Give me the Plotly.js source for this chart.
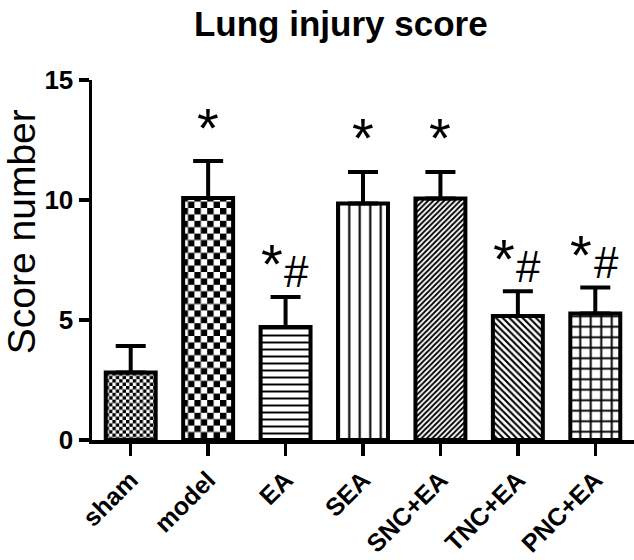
<!DOCTYPE html>
<html><head><meta charset="utf-8">
<script src="https://cdn.plot.ly/plotly-3.0.1.min.js"></script>
<style>html,body{margin:0;padding:0;background:#fff}</style>
</head><body><div id="chart" style="width:634px;height:560px"></div>
<script>
const groups = ['sham', 'model', 'EA', 'SEA', 'SNC+EA', 'TNC+EA', 'PNC+EA'];
const meanScore = [2.81, 10.08, 4.71, 9.85, 10.06, 5.17, 5.27];
const semScore = [1.11, 1.54, 1.25, 1.32, 1.11, 1.03, 1.08];
const starLabels = ['', '*', '*', '*', '*', '*', '*'];
const hashLabels = ['', '', '#', '', '', '#', '#'];
const patternShapes = ['.', '.', '-', '|', '/', '\\', '+'];
const patternSizes = [7, 13, 7, 10.5, 3.8, 4.7, 10.5];
const patternSolid = [0.5, 0.5, 0.28, 0.2, 0.5, 0.45, 0.34];
const yTitle = 'Score number';

const FONT = 'Arial, "Liberation Sans", sans-serif';

const trace = {
  type: 'bar',
  x: groups,
  y: meanScore,
  width: 0.645,
  marker: {
    color: '#ffffff',
    line: {color: '#000000', width: 4},
    pattern: {
      shape: patternShapes,
      size: patternSizes,
      solidity: patternSolid,
      fgcolor: '#000000',
      bgcolor: '#ffffff',
      fgopacity: 1,
      fillmode: 'overlay'
    }
  },
  error_y: {
    type: 'data',
    symmetric: false,
    array: semScore,
    arrayminus: groups.map(() => 0),
    color: '#000000',
    thickness: 4,
    width: 15
  },
  hoverinfo: 'none'
};

const annotations = [];
groups.forEach((g, i) => {
  const top = meanScore[i] + semScore[i];
  const paired = hashLabels[i] !== '';
  if (starLabels[i]) {
    annotations.push({
      x: g, y: top, xref: 'x', yref: 'y',
      text: starLabels[i], showarrow: false,
      yanchor: 'middle', xanchor: 'center',
      xshift: paired ? -14 : 0,
      yshift: paired ? 33 : 34,
      font: {family: FONT, size: 56, color: '#000'}
    });
  }
  if (hashLabels[i]) {
    annotations.push({
      x: g, y: top, xref: 'x', yref: 'y',
      text: hashLabels[i], showarrow: false,
      yanchor: 'middle', xanchor: 'center',
      xshift: 11,
      yshift: 25,
      font: {family: FONT, size: 44, color: '#000'}
    });
  }
});
annotations.push({
  xref: 'paper', yref: 'paper', x: -0.131, y: 0.58,
  xanchor: 'center', yanchor: 'middle',
  text: yTitle, textangle: -90, showarrow: false,
  font: {family: FONT, size: 39, color: '#000'}
});

const layout = {
  width: 634, height: 560,
  margin: {l: 92, r: 0, t: 80, b: 120, pad: 0},
  paper_bgcolor: '#ffffff', plot_bgcolor: '#ffffff',
  showlegend: false,
  font: {family: FONT, color: '#000'},
  title: {
    text: '<b>Lung injury score</b>',
    font: {family: FONT, size: 35, color: '#000'},
    xref: 'paper', x: 0.459, xanchor: 'center',
    yref: 'container', y: 0.957, yanchor: 'middle'
  },
  xaxis: {
    range: [-0.5, 6.5],
    showgrid: false, zeroline: false,
    showline: true, linecolor: '#000', linewidth: 3.5,
    ticks: 'outside', ticklen: 12, tickwidth: 3.5, tickcolor: '#000',
    tickangle: -45,
    ticklabelstandoff: 0,
    tickfont: {family: FONT, size: 25, color: '#000', weight: 'bold'},
    fixedrange: true
  },
  yaxis: {
    range: [0, 15],
    tickvals: [0, 5, 10, 15],
    showgrid: false, zeroline: false,
    showline: true, linecolor: '#000', linewidth: 3.5,
    ticks: 'outside', ticklen: 10, tickwidth: 3.5, tickcolor: '#000',
    tickfont: {family: FONT, size: 26, color: '#000', weight: 'bold'},
    fixedrange: true
  },
  annotations: annotations
};

Plotly.newPlot('chart', [trace], layout, {displayModeBar: false, staticPlot: true}).then(gd => {
  const ns = 'http://www.w3.org/2000/svg';
  const svg = gd.querySelector('svg.main-svg');
  let defs = svg.querySelector('defs');
  if (!defs) { defs = document.createElementNS(ns, 'defs'); svg.insertBefore(defs, svg.firstChild); }
  function addChecker(id, cell) {
    const p = document.createElementNS(ns, 'pattern');
    p.setAttribute('id', id);
    p.setAttribute('patternUnits', 'userSpaceOnUse');
    p.setAttribute('width', 2 * cell);
    p.setAttribute('height', 2 * cell);
    const mk = (x, y, w, h, c) => {
      const r = document.createElementNS(ns, 'rect');
      r.setAttribute('x', x); r.setAttribute('y', y);
      r.setAttribute('width', w); r.setAttribute('height', h);
      r.setAttribute('fill', c);
      p.appendChild(r);
    };
    mk(0, 0, 2 * cell, 2 * cell, '#ffffff');
    mk(0, 0, cell, cell, '#000000');
    mk(cell, cell, cell, cell, '#000000');
    defs.appendChild(p);
  }
  addChecker('chkFine', 3.4);
  addChecker('chkCoarse', 6.4);
  const paths = gd.querySelectorAll('.barlayer .point path');
  if (paths.length >= 2) {
    paths[0].style.fill = 'url(#chkFine)';
    paths[1].style.fill = 'url(#chkCoarse)';
  }
});
</script>
</body></html>
